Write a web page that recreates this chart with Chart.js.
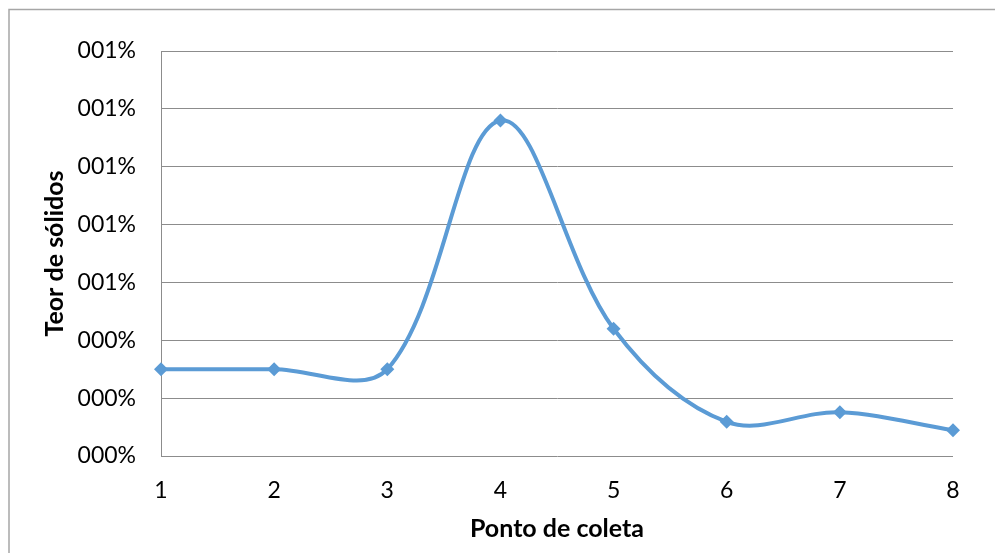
<!DOCTYPE html>
<html lang="pt">
<head>
  <meta charset="UTF-8">
  <title>Teor de sólidos</title>
  <script src="https://cdn.jsdelivr.net/npm/chart.js"></script>
  <style>
    body {
      margin: 0;
      padding: 0;
      background: #fff;
      overflow: hidden;
    }
  </style>
</head>
<body>
  <canvas id="solidsChart" width="995" height="553"></canvas>

  <script>
    // Data (percent)
    const pontos = ["1", "2", "3", "4", "5", "6", "7", "8"];
    const teorSolidos = [0.30, 0.30, 0.30, 1.16, 0.44, 0.118, 0.151, 0.089];
    const yTickLabels = ["000%", "000%", "000%", "001%", "001%", "001%", "001%", "001%"];

    const gridColor = "#8c8c8c";
    const lineColor = "#5b9bd5";

    // outer frame, like the Excel chart border
    const framePlugin = {
      id: "frame",
      beforeDraw(chart) {
        const c = chart.ctx;
        c.save();
        c.strokeStyle = "#a6a6a6";
        c.lineWidth = 1.5;
        c.strokeRect(9, 9.5, 1000, 600);
        c.restore();
      }
    };

    const ctx = document.getElementById("solidsChart").getContext("2d");
    new Chart(ctx, {
      type: "line",
      data: {
        labels: pontos,
        datasets: [{
          label: "Teor de sólidos",
          data: teorSolidos,
          borderColor: lineColor,
          backgroundColor: lineColor,
          borderWidth: 4,
          tension: 0.35,
          fill: false,
          pointStyle: "rectRot",
          pointRadius: 7,
          pointBorderWidth: 0
        }]
      },
      options: {
        responsive: false,
        animation: false,
        layout: { padding: { left: 0, top: 51, right: 42, bottom: 0 } },
        plugins: {
          legend: { display: false },
          tooltip: { enabled: false }
        },
        scales: {
          x: {
            offset: false,
            grid: { display: false, drawTicks: false },
            border: { display: false },
            ticks: {
              color: "#000",
              padding: 21,
              font: { family: "Lato", size: 23 }
            },
            title: {
              display: true,
              text: "Ponto de coleta",
              color: "#000",
              padding: 9,
              font: { family: "Lato", size: 25, weight: "bold" }
            },
            afterFit(scale) { scale.height = 97; }
          },
          y: {
            min: 0,
            max: 1.4,
            grid: { color: gridColor, lineWidth: 1, drawTicks: false },
            border: { display: true, color: gridColor, width: 1 },
            ticks: {
              stepSize: 0.2,
              color: "#000",
              padding: 25,
              font: { family: "Lato", size: 23 },
              callback: (value, index) => yTickLabels[index]
            },
            title: {
              display: true,
              text: "Teor de sólidos",
              color: "#000",
              padding: 40,
              font: { family: "Lato", size: 25, weight: "bold" }
            },
            afterFit(scale) { scale.width = 161; }
          }
        }
      },
      plugins: [framePlugin]
    });
  </script>
</body>
</html>
